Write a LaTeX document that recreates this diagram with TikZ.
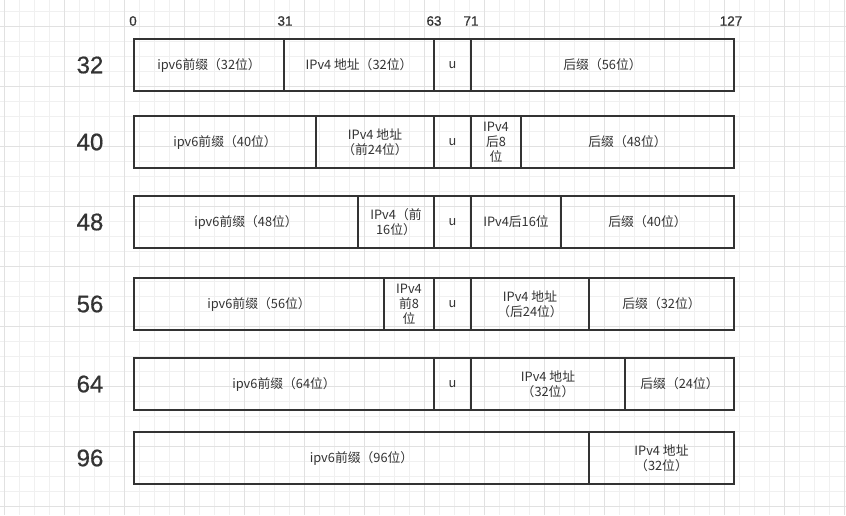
\documentclass[tikz,border=0pt]{standalone}
\usepackage{fontspec}
\setmainfont{Noto Sans CJK SC}
\newfontfamily\numfont[FakeBold=0.6]{Liberation Sans}
\definecolor{gridminor}{HTML}{F0F0F0}
\definecolor{gridmajor}{HTML}{E1E1E1}
\definecolor{boxline}{HTML}{333333}
\definecolor{labeltext}{HTML}{333333}
\begin{document}
\begin{tikzpicture}[x=1pt,y=-1pt,
    cell/.style={draw=boxline, line width=2pt, anchor=north west, outer sep=0pt,
      inner sep=0pt, minimum height=52pt, align=center, text=labeltext,
      font=\fontsize{12.8}{15}\selectfont},
    bitnum/.style={text=labeltext, font=\numfont\fontsize{13.5}{15}\selectfont},
    lenlabel/.style={text=labeltext, font=\numfont\fontsize{24}{26}\selectfont}]
  \fill[white] (0,0) rectangle (846,515);
  \useasboundingbox (0,0) rectangle (846,515);
  \foreach \gx in {0,...,56} \draw[gridminor, line width=1pt] (4.3+15*\gx,0) -- (4.3+15*\gx,515);
  \foreach \gy in {0,...,33} \draw[gridminor, line width=1pt] (0,11+15*\gy) -- (846,11+15*\gy);
  \foreach \gx in {0,...,14} \draw[gridmajor, line width=1pt] (4.3+60*\gx,0) -- (4.3+60*\gx,515);
  \foreach \gy in {0,...,8} \draw[gridmajor, line width=1pt] (0,26+60*\gy) -- (846,26+60*\gy);

  \node[bitnum] (bit0) at (133,21) {0};
  \node[bitnum] (bit31) at (285,21) {31};
  \node[bitnum] (bit63) at (434,21) {63};
  \node[bitnum] (bit71) at (471,21) {71};
  \node[bitnum] (bit127) at (731,21) {127};

  \node[lenlabel] (len32) at (90,65) {32};
  \node[cell, minimum width=150pt] (r32pre) at (134,39) {ipv6前缀（32位）};
  \node[cell, minimum width=150pt] (r32v4) at (r32pre.north east) {IPv4 地址（32位）};
  \node[cell, minimum width=37pt] (r32u) at (r32v4.north east) {u};
  \node[cell, minimum width=263pt] (r32suf) at (r32u.north east) {后缀（56位）};

  \node[lenlabel] (len40) at (90,142) {40};
  \node[cell, minimum width=182pt] (r40pre) at (134,116) {ipv6前缀（40位）};
  \node[cell, minimum width=118pt] (r40v4a) at (r40pre.north east) {IPv4 地址\\（前24位）};
  \node[cell, minimum width=37pt] (r40u) at (r40v4a.north east) {u};
  \node[cell, minimum width=50pt] (r40v4b) at (r40u.north east) {IPv4\\后8\\位};
  \node[cell, minimum width=213pt] (r40suf) at (r40v4b.north east) {后缀（48位）};

  \node[lenlabel] (len48) at (90,222) {48};
  \node[cell, minimum width=224pt] (r48pre) at (134,196) {ipv6前缀（48位）};
  \node[cell, minimum width=76pt] (r48v4a) at (r48pre.north east) {IPv4（前\\16位）};
  \node[cell, minimum width=37pt] (r48u) at (r48v4a.north east) {u};
  \node[cell, minimum width=90pt] (r48v4b) at (r48u.north east) {IPv4后16位};
  \node[cell, minimum width=173pt] (r48suf) at (r48v4b.north east) {后缀（40位）};

  \node[lenlabel] (len56) at (90,304) {56};
  \node[cell, minimum width=250pt] (r56pre) at (134,278) {ipv6前缀（56位）};
  \node[cell, minimum width=50pt] (r56v4a) at (r56pre.north east) {IPv4\\前8\\位};
  \node[cell, minimum width=37pt] (r56u) at (r56v4a.north east) {u};
  \node[cell, minimum width=118pt] (r56v4b) at (r56u.north east) {IPv4 地址\\（后24位）};
  \node[cell, minimum width=145pt] (r56suf) at (r56v4b.north east) {后缀（32位）};

  \node[lenlabel] (len64) at (90,384) {64};
  \node[cell, minimum width=300pt] (r64pre) at (134,358) {ipv6前缀（64位）};
  \node[cell, minimum width=37pt] (r64u) at (r64pre.north east) {u};
  \node[cell, minimum width=154pt] (r64v4) at (r64u.north east) {IPv4 地址\\（32位）};
  \node[cell, minimum width=109pt] (r64suf) at (r64v4.north east) {后缀（24位）};

  \node[lenlabel] (len96) at (90,458) {96};
  \node[cell, minimum width=455pt] (r96pre) at (134,432) {ipv6前缀（96位）};
  \node[cell, minimum width=145pt] (r96v4) at (r96pre.north east) {IPv4 地址\\（32位）};
\end{tikzpicture}
\end{document}
